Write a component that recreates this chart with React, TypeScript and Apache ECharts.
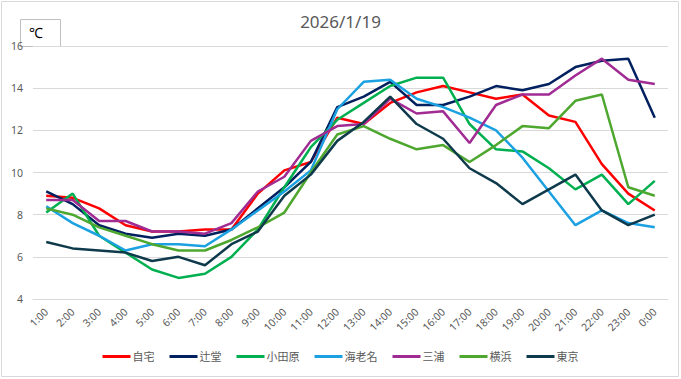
import React, { useEffect, useRef } from "react";
import * as echarts from "echarts";

const hours = [
  "1:00", "2:00", "3:00", "4:00", "5:00", "6:00", "7:00", "8:00", "9:00", "10:00", "11:00", "12:00",
  "13:00", "14:00", "15:00", "16:00", "17:00", "18:00", "19:00", "20:00", "21:00", "22:00", "23:00", "0:00",
];

const jitaku = [8.9, 8.8, 8.3, 7.5, 7.2, 7.2, 7.3, 7.3, 9.0, 10.1, 10.5, 12.6, 12.3, 13.3, 13.8, 14.1, 13.8, 13.5, 13.7, 12.7, 12.4, 10.4, 9.0, 8.2];
const tsujido = [9.1, 8.5, 7.5, 7.1, 6.9, 7.1, 7.0, 7.3, 8.3, 9.3, 10.5, 13.1, 13.6, 14.3, 13.2, 13.2, 13.6, 14.1, 13.9, 14.2, 15.0, 15.3, 15.4, 12.6];
const odawara = [8.1, 9.0, 7.0, 6.2, 5.4, 5.0, 5.2, 6.0, 7.3, 9.3, 11.2, 12.5, 13.3, 14.1, 14.5, 14.5, 12.3, 11.1, 11.0, 10.2, 9.2, 9.9, 8.5, 9.6];
const ebina = [8.4, 7.6, 7.0, 6.3, 6.6, 6.6, 6.5, 7.3, 8.2, 9.1, 10.1, 13.0, 14.3, 14.4, 13.5, 13.1, 12.6, 12.0, 10.7, 9.1, 7.5, 8.2, 7.6, 7.4];
const miura = [8.7, 8.7, 7.7, 7.7, 7.2, 7.2, 7.1, 7.6, 9.1, 9.8, 11.5, 12.2, 12.3, 13.5, 12.8, 12.9, 11.4, 13.2, 13.7, 13.7, 14.6, 15.4, 14.4, 14.2];
const yokohama = [8.3, 8.0, 7.4, 7.0, 6.6, 6.3, 6.3, 6.8, 7.4, 8.1, 10.0, 11.8, 12.2, 11.6, 11.1, 11.3, 10.5, 11.3, 12.2, 12.1, 13.4, 13.7, 9.3, 8.9];
const tokyo = [6.7, 6.4, 6.3, 6.2, 5.8, 6.0, 5.6, 6.6, 7.2, 8.9, 9.9, 11.5, 12.4, 13.6, 12.3, 11.6, 10.2, 9.5, 8.5, 9.2, 9.9, 8.2, 7.5, 8.0];

const seriesNames = ["自宅", "辻堂", "小田原", "海老名", "三浦", "横浜", "東京"];
const seriesData = [jitaku, tsujido, odawara, ebina, miura, yokohama, tokyo];
const seriesColors = ["#FF0000", "#002060", "#00B050", "#1BA1E2", "#A02B93", "#4EA72E", "#0E3A4B"];

const titleText = "2026/1/19";
const unitText = "℃";

export default function App() {
  const ref = useRef<HTMLDivElement>(null);
  useEffect(() => {
    document.body.style.margin = "0";
    if (!ref.current) return;
    const chart = echarts.init(ref.current, null, { renderer: "svg" });
    const font = "'Noto Sans', 'Noto Sans CJK JP', sans-serif";
    chart.setOption({
      animation: false,
      backgroundColor: "#ffffff",
      textStyle: { fontFamily: font },
      title: {
        text: titleText,
        left: "center",
        top: 8,
        textStyle: { fontSize: 17, fontWeight: "normal", color: "#595959", fontFamily: font },
      },
      legend: {
        data: seriesNames,
        left: "center",
        top: 351,
        icon: "rect",
        itemWidth: 28,
        itemHeight: 3,
        itemGap: 15,
        padding: 0,
        textStyle: { fontSize: 11, color: "#595959", padding: [0, 0, 0, -3], fontFamily: font },
      },
      grid: { left: 33, right: 13, top: 46, bottom: 80, containLabel: false },
      xAxis: {
        type: "category",
        data: hours,
        boundaryGap: true,
        axisLine: { show: true, lineStyle: { color: "#d9d9d9", width: 1 } },
        axisTick: { show: false },
        axisLabel: { rotate: 45, fontSize: 10.5, color: "#595959", margin: 11, interval: 0 },
        z: 2,
      },
      yAxis: {
        type: "value",
        min: 4,
        max: 16,
        interval: 2,
        axisLine: { show: false },
        axisTick: { show: false },
        axisLabel: { fontSize: 10.5, color: "#595959", margin: 10 },
        splitLine: { lineStyle: { color: "#d9d9d9", width: 1 } },
        z: 2,
      },
      graphic: [
        {
          type: "rect",
          z: 0,
          shape: { x: 1.5, y: 1.5, width: 677, height: 375 },
          style: { fill: "none", stroke: "#d9d9d9", lineWidth: 1 },
        },
        {
          type: "rect",
          z: 1,
          shape: { x: 20.5, y: 19.5, width: 40, height: 27 },
          style: { fill: "#ffffff", stroke: "#bfbfbf", lineWidth: 1 },
        },
        {
          type: "text",
          z: 1,
          x: 29,
          y: 25,
          style: { text: unitText, fontSize: 14, fill: "#000000", fontFamily: font },
        },
      ],
      series: seriesNames.map((name, i) => ({
        name,
        type: "line",
        data: seriesData[i],
        symbol: "none",
        color: seriesColors[i],
        lineStyle: { width: 2.5, color: seriesColors[i] },
        z: 3,
      })),
    });
    return () => chart.dispose();
  }, []);
  return <div ref={ref} style={{ width: 681, height: 379 }} />;
}
